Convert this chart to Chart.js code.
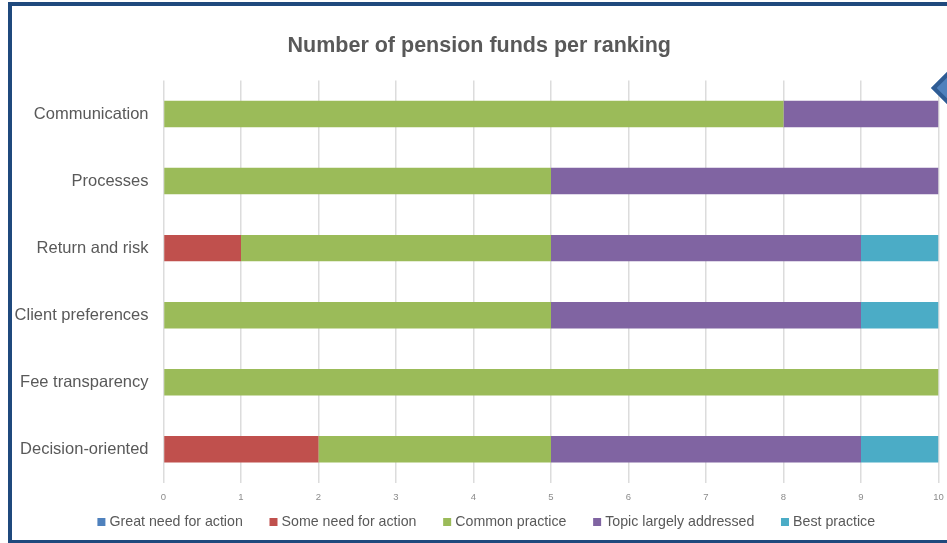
<!DOCTYPE html>
<html>
<head>
<meta charset="utf-8">
<title>Number of pension funds per ranking</title>
<script src="https://cdn.jsdelivr.net/npm/chart.js@4"></script>
<style>
  html, body { margin: 0; padding: 0; background: #fff; }
  #page { position: relative; width: 947px; height: 543px; overflow: hidden; }
  #frame {
    position: absolute; left: 8px; top: 2px; width: 960px; height: 534px;
    border: 4px solid #1f497d; pointer-events: none;
  }
  #marker {
    position: absolute; left: 936px; top: 76px; width: 16px; height: 16px;
    background: #4f81bd; border: 4px solid #2f5c94; transform: rotate(45deg);
  }
  canvas { position: absolute; left: 0; top: 0; }
</style>
</head>
<body>
<div id="page">
  <canvas id="ranking-chart" width="947" height="543"></canvas>
  <div id="frame"></div>
  <div id="marker"></div>
</div>
<script>
const categories = ['Communication', 'Processes', 'Return and risk', 'Client preferences', 'Fee transparency', 'Decision-oriented'];
const greatNeed = [0, 0, 0, 0, 0, 0];
const someNeed = [0, 0, 1, 0, 0, 2];
const commonPractice = [8, 5, 4, 5, 10, 3];
const topicAddressed = [2, 5, 4, 4, 0, 4];
const bestPractice = [0, 0, 1, 1, 0, 1];

const seriesNames = ['Great need for action', 'Some need for action', 'Common practice', 'Topic largely addressed', 'Best practice'];
const seriesValues = [greatNeed, someNeed, commonPractice, topicAddressed, bestPractice];
const seriesColors = ['#4f81bd', '#c0504d', '#9bbb59', '#8064a2', '#4bacc6'];

const font = 'Arial, "Liberation Sans", sans-serif';

// legend.labels.padding also sets the gap between items, so the box comes out
// too tall: let it hang off the bottom, then lift it and shift it sideways here
const placeTitleAndLegend = {
  id: 'placeTitleAndLegend',
  afterLayout(chart) {
    chart.titleBlock.left += 10;
    chart.titleBlock.right += 10;
    chart.legend.left += 18.5;
    chart.legend.right += 18.5;
    chart.legend.top -= 25;
    chart.legend.bottom -= 25;
  },
};

new Chart(document.getElementById('ranking-chart').getContext('2d'), {
  type: 'bar',
  data: {
    labels: categories,
    datasets: seriesNames.map((name, i) => ({
      label: name,
      data: seriesValues[i],
      backgroundColor: seriesColors[i],
      categoryPercentage: 1,
      barPercentage: 0.395,
    })),
  },
  options: {
    indexAxis: 'y',
    responsive: false,
    animation: false,
    layout: { padding: { left: 0, right: 8.5, top: 0, bottom: -21 } },
    scales: {
      x: {
        stacked: true,
        min: 0,
        max: 10,
        border: { display: false },
        grid: { color: '#dcdcdc', lineWidth: 1.5, drawTicks: false },
        ticks: {
          stepSize: 1,
          maxRotation: 0,
          padding: 8.5,
          color: '#8c8c8c',
          font: { family: font, size: 9.5 },
        },
        afterFit(scale) {
          scale.height = 27.3;
          scale.paddingLeft = 0;
          scale.paddingRight = 0;
        },
      },
      y: {
        stacked: true,
        border: { display: false },
        grid: { display: false, drawTicks: false },
        ticks: {
          padding: 15,
          color: '#595959',
          font: { family: font, size: 16.5 },
        },
        afterFit(scale) { scale.width = 163.5; },
      },
    },
    plugins: {
      title: {
        display: true,
        text: 'Number of pension funds per ranking',
        color: '#595959',
        font: { family: font, size: 21.5, weight: 'bold' },
        padding: { top: 33.5, bottom: 21.2 },
      },
      legend: {
        position: 'bottom',
        labels: {
          boxWidth: 2,
          boxHeight: 2,
          padding: 29.7,
          color: '#595959',
          font: { family: font, size: 14.2 },
          // thick outline around a tiny box keeps the label close to the swatch
          generateLabels(chart) {
            return Chart.defaults.plugins.legend.labels.generateLabels(chart).map(item => ({
              ...item,
              lineWidth: 6,
              strokeStyle: item.fillStyle,
            }));
          },
        },
      },
      tooltip: { enabled: false },
    },
  },
  plugins: [placeTitleAndLegend],
});
</script>
</body>
</html>
